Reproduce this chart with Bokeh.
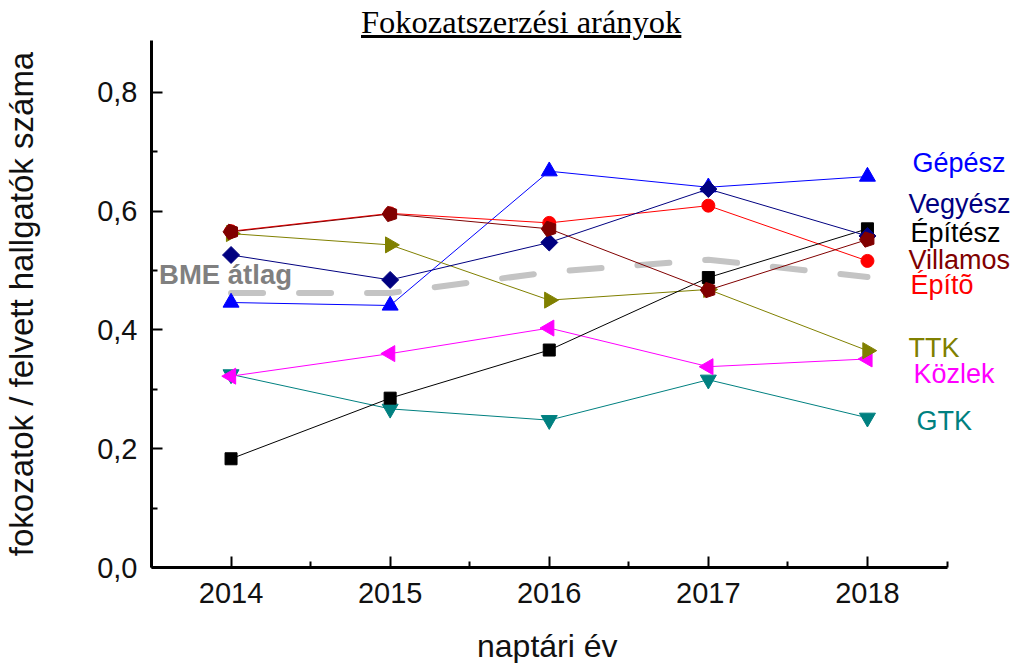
import numpy as np
from bokeh.plotting import figure
from bokeh.models import FixedTicker, CustomJSTickFormatter, Range1d, Label, Div
from bokeh.layouts import column
from bokeh.embed import file_html
from bokeh.resources import INLINE

# ---------------- data ----------------
years = [2014, 2015, 2016, 2017, 2018]
gepesz = [0.446, 0.441, 0.667, 0.640, 0.658]
vegyesz = [0.526, 0.484, 0.547, 0.637, 0.558]
epitesz = [0.183, 0.285, 0.366, 0.488, 0.570]
villamos = [0.565, 0.595, 0.570, 0.467, 0.552]
epito = [0.566, 0.596, 0.580, 0.609, 0.516]
ttk = [0.562, 0.543, 0.450, 0.468, 0.365]
kozlek = [0.322, 0.360, 0.403, 0.338, 0.351]
gtk = [0.325, 0.267, 0.248, 0.316, 0.252]
bme_atlag = [0.462, 0.462, 0.497, 0.518, 0.489]

series_names = ["Gépész", "Vegyész", "Építész", "Villamos", "Építõ", "TTK", "Közlek", "GTK"]
y_ticks = [0.0, 0.2, 0.4, 0.6, 0.8]
y_minor = [0.1, 0.3, 0.5, 0.7]
title_text = "Fokozatszerzési arányok"
x_label = "naptári év"
y_label = "fokozatok / felvett hallgatók száma"
avg_label = "BME átlag"

# ---------------- styles ----------------
FONT = "Liberation Sans"
W = 1016
styles = {
    "Gépész":   dict(color="#0000FF", marker="triangle", size=16, angle=0.0),
    "Vegyész":  dict(color="#000080", marker="square", size=12, angle=np.pi / 4),
    "Építész":  dict(color="#000000", marker="square", size=12, angle=0.0),
    "Villamos": dict(color="#800000", marker="pentagon", size=8, angle=0.0),
    "Építõ":    dict(color="#FF0000", marker="circle", size=13, angle=0.0),
    "TTK":      dict(color="#808000", marker="triangle", size=16, angle=-np.pi / 2),
    "Közlek":   dict(color="#FF00FF", marker="triangle", size=16, angle=np.pi / 2),
    "GTK":      dict(color="#008080", marker="inverted_triangle", size=16, angle=0.0),
}
values = {
    "Gépész": gepesz, "Vegyész": vegyesz, "Építész": epitesz, "Villamos": villamos,
    "Építõ": epito, "TTK": ttk, "Közlek": kozlek, "GTK": gtk,
}
# label placement: x offset (px) from last year, y position (data)
label_pos = {
    "Gépész": (45, 0.681), "Vegyész": (41, 0.611), "Építész": (43, 0.5625),
    "Villamos": (41, 0.518), "Építõ": (43, 0.476), "TTK": (41, 0.370),
    "Közlek": (46, 0.326), "GTK": (49, 0.246),
}
draw_order = ["GTK", "Közlek", "Gépész", "Építõ", "TTK", "Építész", "Vegyész", "Villamos"]

LEFT = 151
PX_PER_YEAR = 159.1
x_start = years[0] - 0.5
x_end = x_start + (W - LEFT) / PX_PER_YEAR

p = figure(width=W, height=577, output_backend="svg", toolbar_location=None,
           x_range=Range1d(x_start, x_end),
           y_range=Range1d(0, 0.887),
           min_border=0, min_border_left=LEFT, min_border_right=0,
           min_border_top=0, min_border_bottom=50)
p.outline_line_color = None
p.xgrid.visible = False
p.ygrid.visible = False
p.background_fill_color = "white"
p.border_fill_color = "white"

# BME average dashed line
p.line(years, bme_atlag, line_color="#c4c4c4", line_width=6,
       line_dash="32 36", line_cap="round")

for name in draw_order:
    st = styles[name]
    vals = values[name]
    c = st["color"]
    p.line(years, vals, line_color=c, line_width=1)
    if st["marker"] == "pentagon":
        if hasattr(p, "ngon"):
            p.ngon(x=years, y=vals, radius=st["size"], radius_units="screen", n=5,
                   angle=np.pi / 2, fill_color=c, line_color=c)
        else:
            p.scatter(years, vals, marker="hex", size=15, fill_color=c, line_color=c)
    else:
        p.scatter(years, vals, marker=st["marker"], size=st["size"], angle=st["angle"],
                  fill_color=c, line_color=c)

for name in series_names:
    dx, ly = label_pos[name]
    p.add_layout(Label(x=years[-1], y=ly, x_offset=dx, text=name,
                       text_font=FONT, text_font_size="27px",
                       text_color=styles[name]["color"], text_baseline="middle",
                       text_align="left"))

p.add_layout(Label(x=years[0], y=0.4926, x_offset=-72, text=avg_label,
                   text_font=FONT, text_font_size="27.5px", text_font_style="bold",
                   text_color="#808080", text_baseline="middle", text_align="left"))

# axes
for ax in (p.xaxis[0], p.yaxis[0]):
    ax.axis_line_width = 3
    ax.axis_line_color = "black"
    ax.major_tick_line_width = 2
    ax.minor_tick_line_width = 2
    ax.major_tick_line_color = "black"
    ax.minor_tick_line_color = "black"
    ax.major_tick_in = 11
    ax.major_tick_out = 0
    ax.minor_tick_in = 6
    ax.minor_tick_out = 0
    ax.major_label_text_font = FONT
    ax.major_label_text_font_size = "29px"
    ax.major_label_text_color = "#111111"
    ax.axis_label_text_font = FONT
    ax.axis_label_text_font_style = "normal"
    ax.axis_label_text_color = "#111111"

p.xaxis.bounds = (years[0] - 0.5, years[-1] + 0.5)
p.xaxis.ticker = FixedTicker(ticks=years,
                             minor_ticks=[y - 0.5 for y in years] + [years[-1] + 0.5])
p.yaxis.ticker = FixedTicker(ticks=y_ticks, minor_ticks=y_minor)
p.yaxis.formatter = CustomJSTickFormatter(code="return tick.toFixed(1).replace('.', ',');")
p.xaxis.major_label_standoff = 15
p.yaxis.major_label_standoff = 14
p.yaxis.axis_label = y_label
p.yaxis.axis_label_text_font_size = "33px"
p.yaxis.axis_label_standoff = 54

title = Div(text=('<div style="font-family:\'Liberation Serif\';font-size:32.5px;'
                  'line-height:32px;text-decoration:underline;white-space:nowrap;'
                  'margin-top:6px;margin-left:361px;color:#000;">' + title_text + '</div>'),
            width=W, height=40, margin=(0, 0, 0, 0))

xlab = Div(text=('<div style="font-family:\'Liberation Sans\';font-size:32px;'
                 'line-height:30px;white-space:nowrap;'
                 'margin-top:14px;margin-left:477px;color:#111;">' + x_label + '</div>'),
           width=W, height=45, margin=(0, 0, 0, 0))

layout = column(title, p, xlab, spacing=0)
open("out.html", "w").write(file_html(layout, INLINE))
